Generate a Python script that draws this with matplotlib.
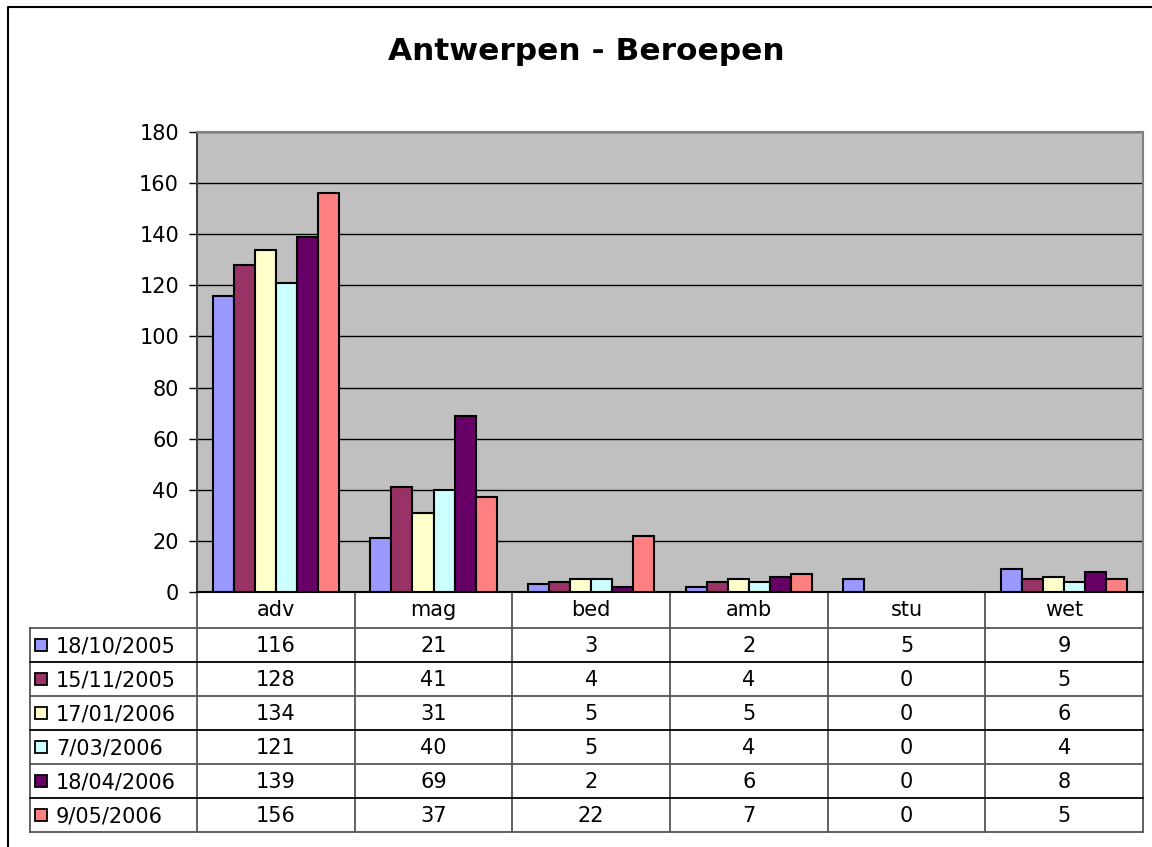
import matplotlib
matplotlib.use("Agg")
import matplotlib.pyplot as plt
from matplotlib.patches import Rectangle
import numpy as np

categories = ["adv", "mag", "bed", "amb", "stu", "wet"]
series_names = ["18/10/2005", "15/11/2005", "17/01/2006", "7/03/2006", "18/04/2006", "9/05/2006"]
v_18_10_2005 = [116, 21, 3, 2, 5, 9]
v_15_11_2005 = [128, 41, 4, 4, 0, 5]
v_17_01_2006 = [134, 31, 5, 5, 0, 6]
v_7_03_2006 = [121, 40, 5, 4, 0, 4]
v_18_04_2006 = [139, 69, 2, 6, 0, 8]
v_9_05_2006 = [156, 37, 22, 7, 0, 5]
series_values = [v_18_10_2005, v_15_11_2005, v_17_01_2006, v_7_03_2006, v_18_04_2006, v_9_05_2006]
colors = ["#9999FF", "#993366", "#FFFFCC", "#CCFFFF", "#660066", "#FF8080"]
title = "Antwerpen - Beroepen"

plt.rcParams['font.family'] = ['DejaVu Sans']
W, H = 1152, 847
fig = plt.figure(figsize=(W / 100, H / 100), dpi=100)

# overlay for border/table (pixel coords)
ov = fig.add_axes([0, 0, 1, 1])
ov.set_xlim(0, W)
ov.set_ylim(H, 0)
ov.axis("off")

L, R, T, B = 197, 1143, 132, 592
ax = fig.add_axes([L / W, 1 - B / H, (R - L) / W, (B - T) / H])
ax.set_facecolor("#C0C0C0")
n_cat = len(categories)
n_ser = len(series_values)
gap = 1.5
bw = 1.0 / (n_ser + gap)
x = np.arange(n_cat)
for i, (vals, c) in enumerate(zip(series_values, colors)):
    off = -0.5 + (gap / 2) * bw + i * bw
    ax.bar(x + off, vals, width=bw, align="edge", color=c, edgecolor="black",
           linewidth=1.5, zorder=3)
ax.set_xlim(-0.5, n_cat - 0.5)
ax.set_ylim(0, 180)
ax.set_yticks(np.arange(0, 181, 20))
ax.yaxis.grid(True, color="black", linewidth=1.0, zorder=1)
ax.set_axisbelow(True)
ax.set_xticks([])
ax.tick_params(axis="y", labelsize=15, length=6, width=1, direction="out", pad=7)
for s in ["top", "right"]:
    ax.spines[s].set_color("#808080")
    ax.spines[s].set_linewidth(1.5)
ax.spines["left"].set_color("#404040")
ax.spines["left"].set_linewidth(1.5)
ax.spines["bottom"].set_color("black")
ax.spines["bottom"].set_linewidth(1.5)

# title
ov.text(586, 52, title, ha="center", va="center", fontsize=22.5, fontweight="bold")

# outer border
ov.add_line(plt.Line2D([8, 8, W + 5], [H + 5, 7, 7], color="black", linewidth=1.5))

# table
cat_w = (R - L) / n_cat
top_row = 628
row_h = (832 - 628) / n_ser
tab_left = 30
lc = "#555555"
fs = 15
# category header
for j, cname in enumerate(categories):
    ov.text(L + (j + 0.5) * cat_w, 610, cname, ha="center", va="center", fontsize=fs)
# vertical lines
for j in range(n_cat + 1):
    ov.add_line(plt.Line2D([L + j * cat_w] * 2, [B, 832], color=lc, linewidth=1.3))
ov.add_line(plt.Line2D([tab_left] * 2, [top_row, 832], color=lc, linewidth=1.3))
# horizontal lines
for i in range(n_ser + 1):
    yy = top_row + i * row_h
    ov.add_line(plt.Line2D([tab_left, R], [yy, yy], color=lc if i % 2 == 0 else "black",
                           linewidth=1.3))
for i, (name, vals, c) in enumerate(zip(series_names, series_values, colors)):
    yc = top_row + (i + 0.5) * row_h
    ov.add_patch(Rectangle((35, yc - 6), 12, 12, facecolor=c, edgecolor="black", linewidth=1.3))
    ov.text(56, yc + 1, name, ha="left", va="center", fontsize=fs)
    for j, v in enumerate(vals):
        ov.text(L + (j + 0.5) * cat_w, yc + 1, str(v), ha="center", va="center", fontsize=fs)

fig.savefig("out.png", dpi=100)
